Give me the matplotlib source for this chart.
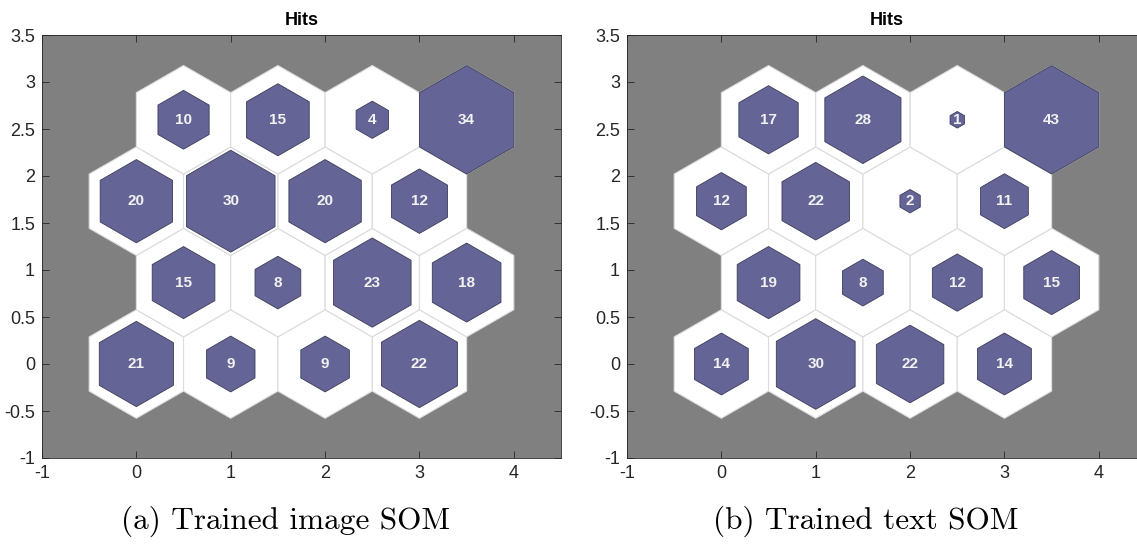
import numpy as np
import matplotlib
matplotlib.use("Agg")
import matplotlib.pyplot as plt
from matplotlib.patches import RegularPolygon

# hits per neuron of a 4x4 hexagonal SOM, listed row by row from the bottom
image_hits = [21, 9, 9, 22,
              15, 8, 23, 18,
              20, 30, 20, 12,
              10, 15, 4, 34]
text_hits = [14, 30, 22, 14,
             19, 8, 12, 15,
             12, 22, 2, 11,
             17, 28, 1, 43]
captions = ["(a) Trained image SOM", "(b) Trained text SOM"]
n_cols, n_rows = 4, 4

xticks = [-1, 0, 1, 2, 3, 4]
xtick_labels = ["-1", "0", "1", "2", "3", "4"]
yticks = [-1, -0.5, 0, 0.5, 1, 1.5, 2, 2.5, 3, 3.5]
ytick_labels = ["-1", "-0.5", "0", "0.5", "1", "1.5", "2", "2.5", "3", "3.5"]

BG = "#808080"
HIT_COLOR = "#646496"
R = 1 / np.sqrt(3)

plt.rcParams["font.family"] = ["Liberation Sans", "DejaVu Sans"]


def hex_positions(nc, nr):
    pos = []
    for j in range(nr):
        for i in range(nc):
            pos.append((i + 0.5 * (j % 2), j * np.sqrt(3) / 2))
    return pos


def plot_hits(ax, hits):
    hits = np.asarray(hits, dtype=float)
    top = hits.max()
    ax.set_facecolor(BG)
    for (x, y), h in zip(hex_positions(n_cols, n_rows), hits):
        ax.add_patch(RegularPolygon((x, y), 6, radius=R, facecolor="white",
                                    edgecolor="#dcdcdc", linewidth=0.8, zorder=1))
        s = np.sqrt(h / top)
        if s > 0:
            ax.add_patch(RegularPolygon((x, y), 6, radius=R * s, facecolor=HIT_COLOR,
                                        edgecolor="#3c3c5a", linewidth=0.6, zorder=2))
            ax.text(x, y, f"{int(h)}", ha="center", va="center", color="#f2f2f2",
                    fontsize=11, fontweight="bold", zorder=3)
    ax.set_xlim(-1, 4.5)
    ax.set_ylim(-1, 3.5)
    ax.set_xticks(xticks)
    ax.set_xticklabels(xtick_labels)
    ax.set_yticks(yticks)
    ax.set_yticklabels(ytick_labels)
    ax.tick_params(direction="in", top=True, right=True, length=5, width=0.6,
                   color="#262626", labelsize=13, labelcolor="#262626", pad=5)
    for sp in ax.spines.values():
        sp.set_color("#262626")
        sp.set_linewidth(0.6)
    ax.set_title("Hits", fontsize=13, fontweight="bold", pad=7)


fig = plt.figure(figsize=(11.37, 5.47), dpi=100)
W, H = 1137, 547
ax1 = fig.add_axes([42 / W, (H - 458) / H, 519 / W, 423 / H])
ax2 = fig.add_axes([627 / W, (H - 458) / H, 519 / W, 423 / H])
plot_hits(ax1, image_hits)
plot_hits(ax2, text_hits)

fig.text(286 / W, (H - 521) / H, captions[0], ha="center", va="center",
         fontsize=22.5, family="cmr10")
fig.text(866 / W, (H - 521) / H, captions[1], ha="center", va="center",
         fontsize=22.5, family="cmr10")

fig.savefig("out.png", dpi=100)
